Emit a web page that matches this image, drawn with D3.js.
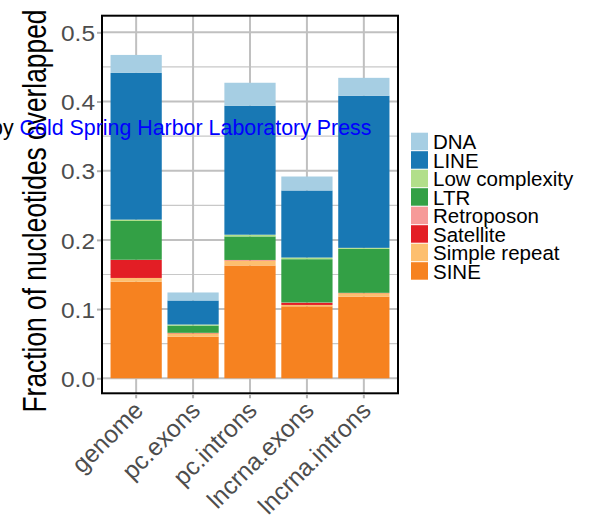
<!DOCTYPE html>
<html>
<head>
<meta charset="utf-8">
<script src="https://cdn.jsdelivr.net/npm/d3@7"></script>
<style>
  body { margin: 0; background: #fff; }
  svg { display: block; font-family: "Liberation Sans", Arial, sans-serif; }
</style>
</head>
<body>
<script>
// categories and repeat types
const categories = ["genome", "pc.exons", "pc.introns", "lncrna.exons", "lncrna.introns"];
const legendKeys = ["DNA", "LINE", "Low complexity", "LTR", "Retroposon", "Satellite", "Simple repeat", "SINE"];
const legendColors = ["#a6cee3", "#1878b4", "#b2df8a", "#33a045", "#f69a99", "#e31e25", "#fdbf6f", "#f68220"];

// fraction per repeat type, one value per category
const dna = [0.026, 0.0116, 0.0332, 0.0202, 0.0259];
const lineRep = [0.212, 0.0347, 0.1864, 0.0969, 0.2198];
const lowComplexity = [0.002, 0.0015, 0.0025, 0.0024, 0.0015];
const ltr = [0.056, 0.0105, 0.034, 0.0626, 0.0635];
const retroposon = [0.0003, 0.0002, 0.0005, 0.0005, 0.0002];
const satellite = [0.026, 0.0005, 0.0005, 0.003, 0.0003];
const simpleRepeat = [0.0054, 0.005, 0.007, 0.002, 0.005];
const sine = [0.1396, 0.060, 0.163, 0.104, 0.118];

const yTicks = [0, 0.1, 0.2, 0.3, 0.4, 0.5];
const yMinorTicks = [0.05, 0.15, 0.25, 0.35, 0.45];

const W = 596, H = 524;
const panel = {left: 102, right: 398, top: 15.7, bottom: 393.3};

// table for d3.stack
const seriesValues = [dna, lineRep, lowComplexity, ltr, retroposon, satellite, simpleRepeat, sine];
const rows = categories.map((c, i) => {
  const r = {cat: c};
  legendKeys.forEach((k, j) => r[k] = seriesValues[j][i]);
  return r;
});
const stackOrder = legendKeys.slice().reverse(); // SINE at the bottom
const stacked = d3.stack().keys(stackOrder)(rows);
const color = d3.scaleOrdinal().domain(legendKeys).range(legendColors);

const svg = d3.select("body").append("svg")
  .attr("width", W)
  .attr("height", H);

const x = d3.scaleBand()
  .domain(categories)
  .range([panel.left, panel.right])
  .paddingInner(0.1)
  .paddingOuter(0.15);

const y = d3.scaleLinear()
  .domain([-0.0217, 0.524])
  .range([panel.bottom, panel.top]);

// grid
const grid = svg.append("g");
grid.selectAll("line.minor").data(yMinorTicks).join("line")
  .attr("class", "minor")
  .attr("x1", panel.left).attr("x2", panel.right)
  .attr("y1", d => y(d)).attr("y2", d => y(d))
  .attr("stroke", "#c8c8c8").attr("stroke-width", 1.2);
grid.selectAll("line.major").data(yTicks).join("line")
  .attr("class", "major")
  .attr("x1", panel.left).attr("x2", panel.right)
  .attr("y1", d => y(d)).attr("y2", d => y(d))
  .attr("stroke", "#c0c0c0").attr("stroke-width", 2);
grid.selectAll("line.vert").data(categories).join("line")
  .attr("class", "vert")
  .attr("x1", d => x(d) + x.bandwidth() / 2).attr("x2", d => x(d) + x.bandwidth() / 2)
  .attr("y1", panel.top).attr("y2", panel.bottom)
  .attr("stroke", "#c0c0c0").attr("stroke-width", 2);

// bars
svg.append("g").selectAll("g").data(stacked).join("g")
  .attr("fill", d => color(d.key))
  .selectAll("rect").data(d => d).join("rect")
  .attr("x", d => x(d.data.cat))
  .attr("width", x.bandwidth())
  .attr("y", d => y(d[1]))
  .attr("height", d => y(d[0]) - y(d[1]));

// panel border
svg.append("rect")
  .attr("x", panel.left).attr("y", panel.top)
  .attr("width", panel.right - panel.left)
  .attr("height", panel.bottom - panel.top)
  .attr("fill", "none").attr("stroke", "#000").attr("stroke-width", 2);

// y axis
const yAxis = svg.append("g")
  .attr("transform", `translate(${panel.left - 1},0)`)
  .call(d3.axisLeft(y).tickValues(yTicks).tickSize(4).tickPadding(2).tickFormat(d3.format(".1f")));
yAxis.select(".domain").remove();
yAxis.selectAll(".tick line").attr("stroke", "#b0b0b0").attr("stroke-width", 2);
yAxis.selectAll(".tick text")
  .attr("fill", "#4d4d4d")
  .style("font-size", "22.5px")
  .attr("dy", "0.36em")
  .attr("textLength", 34)
  .attr("lengthAdjust", "spacingAndGlyphs");

// x axis
const xAxis = svg.append("g")
  .attr("transform", `translate(0,${panel.bottom + 1})`)
  .call(d3.axisBottom(x).tickSize(4).tickPadding(3));
xAxis.select(".domain").remove();
xAxis.selectAll(".tick line").attr("stroke", "#b0b0b0").attr("stroke-width", 2);
xAxis.selectAll(".tick text")
  .attr("fill", "#4d4d4d")
  .style("font-size", "24.5px")
  .attr("text-anchor", "end")
  .attr("x", 0).attr("y", 0).attr("dy", "0.72em")
  .attr("transform", "translate(-4,5) rotate(-45)");

// y title
svg.append("text")
  .attr("transform", "translate(46,211) rotate(-90)")
  .attr("text-anchor", "middle")
  .attr("textLength", 403)
  .attr("lengthAdjust", "spacingAndGlyphs")
  .style("font-size", "34px")
  .attr("fill", "#000")
  .text("Fraction of nucleotides overlapped");

// legend
const keyH = 18.5;
const legend = svg.append("g").attr("transform", "translate(411,132.7)");
const items = legend.selectAll("g").data(legendKeys).join("g")
  .attr("transform", (d, i) => `translate(0,${i * keyH})`);
items.append("rect")
  .attr("width", 17).attr("height", keyH - 1)
  .attr("fill", d => color(d));
items.append("text")
  .attr("x", 22).attr("y", keyH / 2)
  .attr("dy", "0.36em")
  .style("font-size", "20.5px")
  .attr("fill", "#000")
  .text(d => d);

// watermark on top
const wm = svg.append("text")
  .attr("x", -9).attr("y", 135)
  .style("font-size", "21.4px");
wm.append("tspan").attr("fill", "#000").text("by ");
wm.append("tspan").attr("fill", "#0000ff").text("Cold Spring Harbor Laboratory Press");
</script>
</body>
</html>
